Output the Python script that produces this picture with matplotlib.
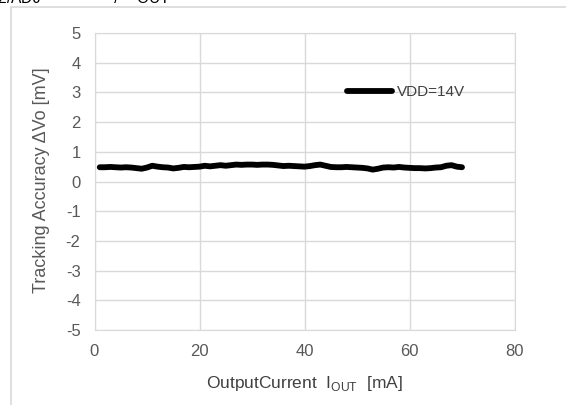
import numpy as np
import matplotlib.pyplot as plt
from matplotlib.patches import Rectangle

plt.rcParams['font.family'] = ['Liberation Sans', 'DejaVu Sans']
plt.rcParams['axes.unicode_minus'] = False

# output current [mA]
i_out = list(range(1, 71))
# tracking accuracy [mV], VDD = 14V
dvo = [0.48, 0.48, 0.49, 0.48, 0.47, 0.48, 0.47, 0.45, 0.43, 0.47,
       0.53, 0.50, 0.48, 0.47, 0.44, 0.46, 0.49, 0.48, 0.49, 0.50,
       0.53, 0.51, 0.53, 0.55, 0.53, 0.55, 0.57, 0.56, 0.57, 0.57,
       0.56, 0.57, 0.57, 0.56, 0.54, 0.52, 0.53, 0.52, 0.51, 0.50,
       0.52, 0.55, 0.57, 0.53, 0.49, 0.48, 0.48, 0.49, 0.48, 0.47,
       0.46, 0.44, 0.40, 0.43, 0.47, 0.48, 0.47, 0.49, 0.47, 0.46,
       0.45, 0.45, 0.44, 0.45, 0.47, 0.48, 0.53, 0.55, 0.50, 0.48]
series_label = "VDD=14V"
xticks = [0, 20, 40, 60, 80]
yticks = list(range(-5, 6))

W, H = 566, 405
fig = plt.figure(figsize=(W / 100, H / 100), dpi=100)
# plot area in pixels: left 94.5, right 514.5, top 33, bottom 330
ax = fig.add_axes([94.5 / W, 1 - 330 / H, 420 / W, 297 / H])

# outer chart frame (light gray), runs off the right/bottom edges
fig.patches.append(Rectangle((11 / W, -0.1), 1.2, 1 - 7 / H + 0.1,
                             transform=fig.transFigure, fill=False,
                             edgecolor='#d9d9d9', linewidth=1.2))

# caption above the chart, mostly cut off by the image edge
fig.text(-40 / W, 1.0,
         "V$_{\\mathregular{DD2/ADJ}}$  = 14V,  I$_{\\mathregular{OUT}}$",
         fontsize=16, color='black', va='baseline', ha='left')

ax.plot(i_out, dvo, color='black', linewidth=4.2, solid_capstyle='round',
        solid_joinstyle='round', label=series_label)

ax.set_xlim(0, 80)
ax.set_ylim(-5, 5)
ax.set_xticks(xticks)
ax.set_yticks(yticks)
ax.grid(True, color='#d9d9d9', linewidth=1)
ax.set_axisbelow(True)
for s in ax.spines.values():
    s.set_color('#d9d9d9')
ax.tick_params(length=0, labelsize=12, labelcolor='#595959')
ax.tick_params(axis='x', pad=10)
ax.tick_params(axis='y', pad=10)

ax.set_xlabel("OutputCurrent  I$_{\\mathregular{OUT}}$  [mA]", fontsize=12.5,
              color='#404040', va='top')
ax.xaxis.set_label_coords(0.499, (330 - 374) / 297)
ax.set_ylabel("Tracking Accuracy ΔVo [mV]", fontsize=13, color='#595959')
ax.yaxis.set_label_coords((50 - 94.5) / 420, 0.505)

ax.legend(loc='center left', bbox_to_anchor=(0.602, 0.8), frameon=False,
          fontsize=11, handlelength=2.95, handletextpad=0.3, borderpad=0,
          borderaxespad=0, labelcolor='#404040')

fig.savefig('out.png', dpi=100)
